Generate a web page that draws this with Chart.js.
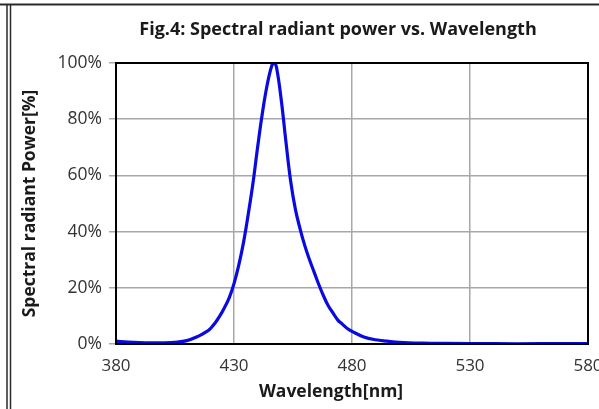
<!DOCTYPE html>
<html>
<head>
<meta charset="utf-8">
<script src="https://cdn.jsdelivr.net/npm/chart.js@4"></script>
<style>
  html, body { margin: 0; padding: 0; background: #fff; }
  #wrap { width: 599px; height: 409px; position: relative; }
</style>
</head>
<body>
<div id="wrap"><canvas id="c" width="599" height="409"></canvas></div>
<script>
const chartTitle = "Fig.4: Spectral radiant power vs. Wavelength";
const xTitle = "Wavelength[nm]";
const yTitle = "Spectral radiant Power[%]";
const xTicks = [380, 430, 480, 530, 580];
const yTicks = [0, 20, 40, 60, 80, 100];
const wavelengths = [380,385,390,395,400,405,410,415,418,420,422,424,426,428,430,432,434,436,438,440,442,444,446,447,448,450,452,454,456,458,460,462,464,466,468,470,472,474,476,478,480,485,490,495,500,510,520,540,560,580];
const power       = [1.0,0.7,0.5,0.4,0.4,0.6,1.2,2.8,4.2,5.5,7.5,10,13,16.5,21.5,28,36,46,57,70,82,92,99,100,98.5,87,72,58,48,41,35,30,25.5,21,17,13.5,11,8.5,7,5.5,4.5,2.5,1.5,1.0,0.6,0.3,0.2,0.1,0.1,0.1];

const points = wavelengths.map((w, i) => ({x: w, y: power[i]}));

const framePlugin = {
  id: 'frame',
  beforeDraw(chart) {
    const ctx = chart.ctx;
    ctx.save();
    ctx.fillStyle = '#fff';
    ctx.fillRect(0, 0, chart.width, chart.height);
    ctx.strokeStyle = '#2a2a2a';
    ctx.lineWidth = 2;
    ctx.beginPath(); ctx.moveTo(0, 4.5); ctx.lineTo(chart.width, 4.5); ctx.stroke();
    ctx.lineWidth = 1.5;
    ctx.beginPath(); ctx.moveTo(7, 4); ctx.lineTo(7, chart.height); ctx.stroke();
    ctx.beginPath(); ctx.moveTo(10.5, 4); ctx.lineTo(10.5, chart.height); ctx.stroke();
    ctx.restore();
  },
  afterDatasetsDraw(chart) {
    const {ctx, chartArea: a} = chart;
    ctx.save();
    ctx.strokeStyle = '#000';
    ctx.lineWidth = 2;
    ctx.strokeRect(a.left, a.top, a.right - a.left, a.bottom - a.top);
    ctx.restore();
  },
  afterDraw(chart) {
    const ctx = chart.ctx;
    ctx.save();
    ctx.fillStyle = '#1a1a1a';
    ctx.textAlign = 'center';
    ctx.textBaseline = 'middle';
    ctx.font = 'bold 18px "Open Sans"';
    ctx.fillText(chartTitle, 338, 30);
    ctx.font = 'bold 17.5px "Open Sans"';
    ctx.fillText(xTitle, 331, 392);
    ctx.restore();
  }
};

new Chart(document.getElementById('c'), {
  type: 'line',
  data: {
    datasets: [{
      data: points,
      borderColor: '#0a0ae0',
      borderWidth: 3.2,
      pointRadius: 0,
      fill: false,
      tension: 0.4
    }]
  },
  options: {
    responsive: false,
    animation: false,
    devicePixelRatio: 1,
    layout: { padding: { left: 0, right: 11, top: 63, bottom: 0 } },
    plugins: { legend: { display: false }, title: { display: false }, tooltip: { enabled: false } },
    scales: {
      x: {
        type: 'linear',
        min: xTicks[0], max: xTicks[xTicks.length - 1],
        afterBuildTicks(s) { s.ticks = xTicks.map(v => ({value: v})); },
        afterFit(s) { s.height = 65; s.paddingLeft = 0; s.paddingRight = 0; },
        grid: { color: '#a8a8a8', lineWidth: 1.5, drawTicks: false },
        border: { color: '#000', width: 2 },
        ticks: { padding: 12, color: '#333', font: { family: '"Open Sans"', size: 17 }, maxRotation: 0 },
        title: { display: false }
      },
      y: {
        min: 0, max: 100,
        afterBuildTicks(s) { s.ticks = yTicks.map(v => ({value: v})); },
        afterFit(s) { s.width = 116; s.paddingTop = 0; s.paddingBottom = 0; },
        grid: { color: '#a8a8a8', lineWidth: 1.5, drawTicks: true, tickLength: 7 },
        border: { color: '#000', width: 2 },
        ticks: { padding: 7, color: '#333', font: { family: '"Open Sans"', size: 17.5 }, callback: v => v + '%' },
        title: { display: true, text: yTitle, color: '#1a1a1a', font: { family: '"Open Sans"', size: 17.5, weight: 'bold' }, padding: { top: 20, bottom: 0 } }
      }
    }
  },
  plugins: [framePlugin]
});
</script>
</body>
</html>
